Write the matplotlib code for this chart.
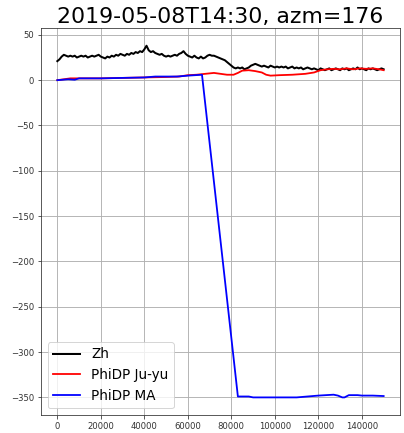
import numpy as np
import matplotlib
matplotlib.use("Agg")
import matplotlib.pyplot as plt

# Reflectivity along the ray, sampled every 1000 m
zh_range = list(range(0, 151000, 1000))
zh = [21, 23, 26, 28, 27, 26, 27, 26, 27, 25,
      26, 27, 26, 27, 25, 26, 27, 26, 27, 28,
      26, 25, 24, 26, 25, 27, 26, 28, 27, 29,
      28, 27, 29, 28, 30, 29, 31, 30, 32, 31,
      34, 38, 33, 31, 32, 30, 29, 28, 29, 27,
      26, 27, 26, 27, 28, 27, 29, 30, 32, 29,
      27, 26, 25, 27, 25, 24, 26, 24, 25, 27,
      28, 27, 27, 26, 25, 24, 23, 22, 20, 18,
      16, 14, 13, 14, 13, 14, 12, 13, 14, 16,
      17, 18, 17, 16, 15, 16, 15, 14, 16, 15,
      14, 15, 14, 15, 14, 15, 13, 14, 15, 13,
      14, 13, 14, 12, 13, 14, 13, 12, 13, 12,
      11, 13, 12, 11, 12, 13, 11, 12, 13, 12,
      11, 13, 12, 13, 11, 12, 13, 12, 14, 12,
      13, 12, 11, 13, 12, 13, 12, 11, 12, 13,
      12]

# PhiDP estimate (Ju-yu method)
juyu_range = [0, 3000, 6000, 10000, 20000, 30000, 40000, 50000, 56000, 60000,
              64000, 68000, 72000, 75000, 78000, 81000, 83000, 85000, 88000, 91000,
              94000, 96000, 98000, 102000, 108000, 114000, 118000, 121000, 124000, 127000,
              130000, 133000, 136000, 139000, 142000, 145000, 148000, 150000]
juyu = [0, 1, 2, 2, 2, 2.5, 3, 3.5, 4, 5.5,
        6, 7, 8, 7, 6, 6, 8, 10.5, 11, 10,
        8.5, 6, 5, 5.5, 6, 7, 8.5, 11, 12, 12.5,
        12, 13, 12, 13, 12.5, 13, 12, 11]

# PhiDP estimate (moving average)
ma_range = [0, 5000, 8000, 10000, 20000, 30000, 40000, 45000, 55000, 60000,
            66500, 83000, 88000, 90000, 100000, 110000, 120000, 127000, 129000, 131000,
            132000, 134000, 138000, 140000, 145000, 150000]
ma = [0, 1, 0.5, 2, 2, 2.5, 3, 4, 4, 5,
      6, -349, -349, -350, -350, -350, -348, -347, -348, -350,
      -350, -347.5, -347.5, -348, -348, -348.5]

fig = plt.figure(figsize=(404 / 72, 433 / 72), dpi=72)
ax = fig.add_axes([0.1015, 0.0416, 0.8885, 0.8934])

ax.plot(zh_range, zh, color="black", lw=2.0, label="Zh")
ax.plot(juyu_range, juyu, color="red", lw=1.8, label="PhiDP Ju-yu")
ax.plot(ma_range, ma, color="blue", lw=1.8, label="PhiDP MA")

ax.set_xticks([0, 20000, 40000, 60000, 80000, 100000, 120000, 140000])
ax.set_yticks([50, 0, -50, -100, -150, -200, -250, -300, -350])
ax.tick_params(labelsize=8.5, colors="#333333")
ax.grid(True, color="#b0b0b0", lw=0.9)
for s in ax.spines.values():
    s.set_color("#333333")

ax.set_title("2019-05-08T14:30, azm=176", fontsize=22, pad=5)
ax.legend(loc="lower left", fontsize=13.5)

fig.savefig("out.png", dpi=72)
